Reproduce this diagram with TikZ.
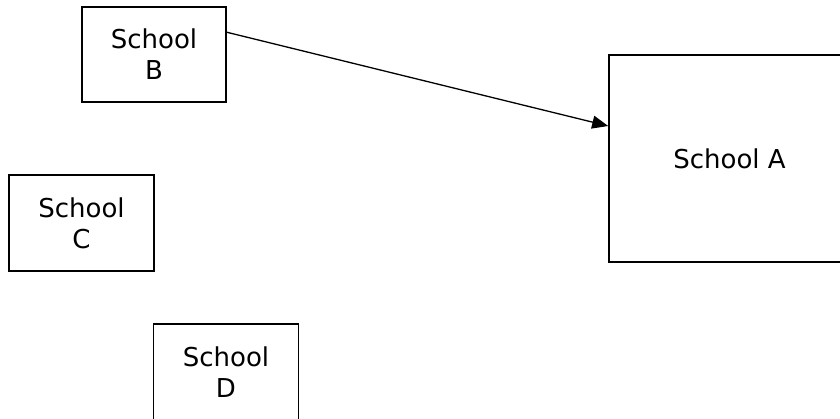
\documentclass[tikz,border=0pt]{standalone}
\usepackage{fontspec}
\setmainfont{DejaVu Sans}
\usetikzlibrary{arrows.meta}
\begin{document}
\begin{tikzpicture}[x=1pt,y=-1pt,
    school/.style={draw, line width=1.6pt, rectangle, align=center,
        font=\fontsize{26}{31}\selectfont}]
    % 固定画布大小 (840 x 418)
    \useasboundingbox (0,0) rectangle (840,418);
    \clip (0,0) rectangle (840,418);

    % 画四个学校方框
    \node[school, minimum width=144pt, minimum height=95pt] (B) at (154,54.5) {School\\B}; % 左上
    \node[school, minimum width=241pt, minimum height=207pt] (A) at (729.5,158.5) {School A}; % 右边, 超出画布
    \node[school, minimum width=145pt, minimum height=96pt] (C) at (81.5,223) {School\\C}; % 左中
    \node[school, minimum width=145pt, minimum height=96pt] (D) at (226,372) {School\\D}; % 下方, 超出画布

    % 从 B 指向 A 的箭头
    \draw[line width=1.3pt, -{Triangle[length=16pt,width=13pt]}] (B.17) -- (A.165);
\end{tikzpicture}
\end{document}
